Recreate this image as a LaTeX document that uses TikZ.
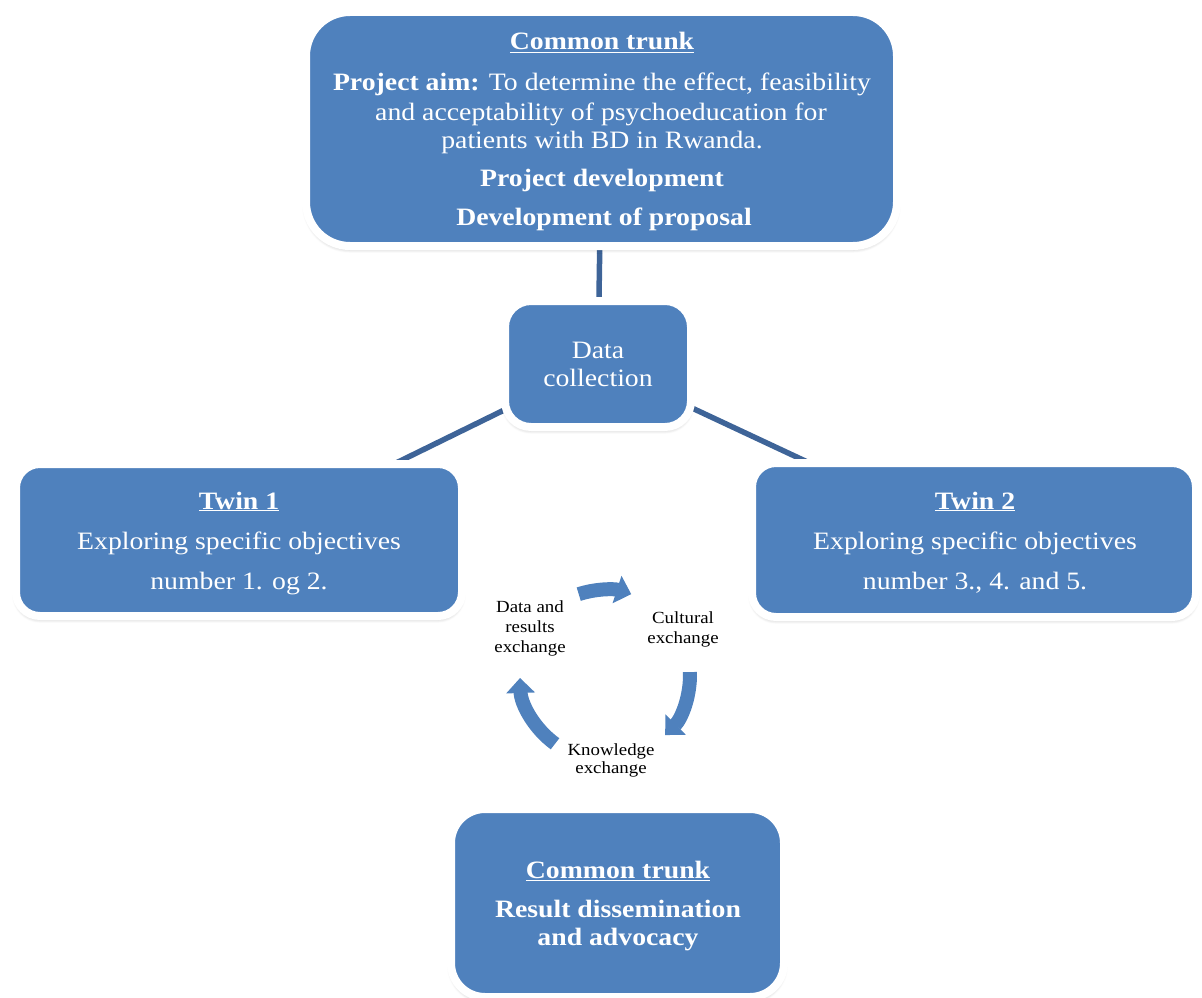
\documentclass[tikz,border=0pt]{standalone}
\usepackage{fontspec}
\setmainfont[FakeStretch=1.11]{Liberation Serif}
\usetikzlibrary{shadows.blur,arrows.meta,backgrounds}
\definecolor{boxblue}{HTML}{4F81BD}
\definecolor{linkblue}{HTML}{3E6498}
\tikzset{
  box/.style={draw=white, line width=8pt, fill=boxblue, inner sep=0pt,
    blur shadow={shadow xshift=0pt, shadow yshift=-3pt, shadow blur steps=6, shadow blur radius=4pt, shadow opacity=30}},
  lbl/.style={text=white, font=\fontsize{25}{29}\selectfont, anchor=base, inner sep=0pt},
  small/.style={text=black, font=\fontsize{17}{20}\selectfont, anchor=base, inner sep=0pt},
  link/.style={draw=linkblue, line width=5.5pt},
  cyc/.style={draw=boxblue, line width=14pt, -{Triangle[width=28pt,length=15pt]}}
}
\begin{document}
\begin{tikzpicture}[x=1pt,y=-1pt]
\useasboundingbox (0,0) rectangle (1202,998);
% boxes
\node[box, rounded corners=44pt, minimum width=591pt, minimum height=234pt] (top) at (601.5,129) {};
\node[box, rounded corners=26pt, minimum width=186pt, minimum height=126pt] (dc) at (598,364) {};
\node[box, rounded corners=24pt, minimum width=446pt, minimum height=152pt] (t1) at (239,540) {};
\node[box, rounded corners=24pt, minimum width=444pt, minimum height=154pt] (t2) at (974,540) {};
\node[box, rounded corners=34pt, minimum width=333pt, minimum height=188pt] (bot) at (617.5,903) {};
% connectors
\begin{scope}[on background layer]
\draw[link] (top.center) -- (dc.center);
\draw[link] (dc.center) -- (t1.center);
\draw[link] (dc.center) -- (t2.center);
\end{scope}
% top texts
\node[lbl] (top1) at (602,50) {\textbf{\underline{Common trunk}}};
\node[lbl] (top2) at (602,91) {\textbf{Project aim:} To determine the effect, feasibility};
\node[lbl] (top3) at (601,120) {and acceptability of psychoeducation for};
\node[lbl] (top4) at (602,148) {patients with BD in Rwanda.};
\node[lbl] (top5) at (602,186) {\textbf{Project development}};
\node[lbl] (top6) at (604,225) {\textbf{Development of proposal}};
% data collection
\node[lbl] (dc1) at (598,358) {Data};
\node[lbl] (dc2) at (598,386) {collection};
% twin 1
\node[lbl] (t1a) at (239,509) {\textbf{\underline{Twin 1}}};
\node[lbl] (t1b) at (239,549) {Exploring specific objectives};
\node[lbl] (t1c) at (239,589) {number 1. og 2.};
% twin 2
\node[lbl] (t2a) at (975,509) {\textbf{\underline{Twin 2}}};
\node[lbl] (t2b) at (975,549) {Exploring specific objectives};
\node[lbl] (t2c) at (975,589) {number 3., 4. and 5.};
% bottom
\node[lbl] (b1) at (618,878) {\textbf{\underline{Common trunk}}};
\node[lbl] (b2) at (618,917) {\textbf{Result dissemination}};
\node[lbl] (b3) at (618,945) {\textbf{and advocacy}};
% cycle
\coordinate (cc) at (605,675);
\draw[cyc] (cc) ++(-108:85) arc[start angle=-108, end angle=-72, radius=85];
\draw[cyc] (cc) ++(-2:85) arc[start angle=-2, end angle=45, radius=85];
\draw[cyc] (cc) ++(126:85) arc[start angle=126, end angle=178, radius=85];
\node[small] (c1) at (530,612) {Data and};
\node[small] (c2) at (530,632) {results};
\node[small] (c3) at (530,652) {exchange};
\node[small] (c4) at (683,623) {Cultural};
\node[small] (c5) at (683,643) {exchange};
\node[small] (c6) at (611,755) {Knowledge};
\node[small] (c7) at (611,773) {exchange};
\end{tikzpicture}
\end{document}
